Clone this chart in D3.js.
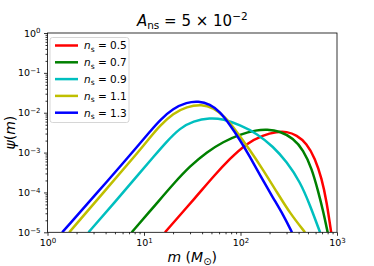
<!DOCTYPE html>
<html>
<head>
<meta charset="utf-8">
<script src="https://cdn.jsdelivr.net/npm/d3@7"></script>
<style>
  body { margin: 0; background: #fff; }
  text { font-family: "DejaVu Sans", sans-serif; fill: #000; }
</style>
</head>
<body>
<script>
// mass values (M_sun) and psi(m), one pair of arrays per curve
// n_s = 0.5
const mA = [16.5, 35.2, 52.3, 77.9, 116, 172, 237, 301, 382, 485, 592, 694, 782, 870];
const psiA = [1e-5, 8.1e-5, 2.51e-4, 7.1e-4, 1.71e-3, 2.76e-3, 3.34e-3, 3.38e-3, 2.76e-3, 1.71e-3, 7.18e-4, 2.26e-4, 5.85e-5, 1e-5];

// n_s = 0.7
const mB = [7.46, 13.5, 20.1, 30.0, 44.7, 66.3, 98.8, 147, 187, 256, 352, 448, 547, 640, 721, 800];
const psiB = [1e-5, 5.27e-5, 1.63e-4, 4.6e-4, 1.03e-3, 1.87e-3, 2.87e-3, 3.68e-3, 3.83e-3, 3.47e-3, 2.28e-3, 1.16e-3, 4.03e-4, 1.04e-4, 3.28e-5, 1e-5];

// n_s = 0.9
const mC = [2.66, 5.01, 9.09, 12.5, 17.2, 23.6, 32.4, 48.3, 66.3, 98.8, 147, 219, 301, 414, 525, 667];
const psiC = [1e-5, 5.78e-5, 3.16e-4, 7.73e-4, 1.89e-3, 4.13e-3, 6.19e-3, 7.5e-3, 6.95e-3, 4.91e-3, 3.04e-3, 1.4e-3, 5.89e-4, 1.86e-4, 4.83e-5, 1e-5];

// n_s = 1.1
const mD = [1.68, 3.94, 9.09, 11.5, 14.6, 20.1, 27.7, 39.6, 52.3, 69.1, 91.4, 125, 172, 237, 326, 466];
const psiD = [1e-5, 1.1e-4, 1.16e-3, 2.36e-3, 4.72e-3, 9.66e-3, 1.42e-2, 1.63e-2, 1.33e-2, 7.94e-3, 3.34e-3, 1.16e-3, 3.65e-4, 1.04e-4, 2.99e-5, 1e-5];

// n_s = 1.3
const mE = [1.42, 4.44, 9.09, 11.5, 14.6, 20.1, 27.7, 36.6, 48.3, 61.3, 77.9, 98.8, 125, 159, 219, 278, 341];
const psiE = [1e-5, 2.26e-4, 1.71e-3, 3.34e-3, 6.56e-3, 1.29e-2, 1.82e-2, 1.97e-2, 1.63e-2, 1.06e-2, 4.91e-3, 2.07e-3, 7.87e-4, 2.73e-4, 7.1e-5, 2.71e-5, 1e-5];

const nsLabels = ["0.5", "0.7", "0.9", "1.1", "1.3"];
const colors = ["#ff0000", "#008000", "#00bfbf", "#bfbf00", "#0000ff"];

const xTicks = [1, 10, 100, 1000];
const xExp = ["0", "1", "2", "3"];
const yTicks = [1e-5, 1e-4, 1e-3, 1e-2, 1e-1, 1];
const yExp = ["\u22125", "\u22124", "\u22123", "\u22122", "\u22121", "0"];

const series = [
  { m: mA, psi: psiA },
  { m: mB, psi: psiB },
  { m: mC, psi: psiC },
  { m: mD, psi: psiD },
  { m: mE, psi: psiE },
];

const w = 374;
const h = 266;
const padL = 47.5, padR = 337, padT = 33, padB = 232.3;

const svg = d3.select("body").append("svg").attr("width", w).attr("height", h);
svg.append("rect").attr("width", w).attr("height", h).attr("fill", "#fff");

const x = d3.scaleLog().domain([1, 1000]).range([padL, padR]);
const y = d3.scaleLog().domain([1e-5, 1]).range([padB, padT]);

// minor ticks 2..9 in every decade
const minors = (lo, hi) => {
  const out = [];
  for (let e = lo; e < hi; e++) {
    for (let k = 2; k <= 9; k++) out.push(k * Math.pow(10, e));
  }
  return out;
};

const supLabel = (sel, exps) => {
  sel.selectAll(".tick text").each(function (d, i) {
    const t = d3.select(this).text("");
    t.append("tspan").text("10");
    t.append("tspan").attr("dy", "-0.45em").attr("font-size", "7px").text(exps[i]);
  });
};

// x axis
svg.append("g").attr("transform", `translate(0,${padB})`)
  .call(d3.axisBottom(x).tickValues(minors(0, 3)).tickSize(2).tickFormat(""))
  .call((g) => g.select(".domain").remove());
const gxMaj = svg.append("g").attr("transform", `translate(0,${padB})`)
  .call(d3.axisBottom(x).tickValues(xTicks).tickSize(3.5).tickPadding(3.5).tickFormat(() => "10"))
  .call((g) => g.select(".domain").remove());
gxMaj.selectAll("text").attr("font-size", "9.5px").attr("font-family", "DejaVu Sans");
supLabel(gxMaj, xExp);

// y axis
svg.append("g").attr("transform", `translate(${padL},0)`)
  .call(d3.axisLeft(y).tickValues(minors(-5, 0)).tickSize(2).tickFormat(""))
  .call((g) => g.select(".domain").remove());
const gyMaj = svg.append("g").attr("transform", `translate(${padL},0)`)
  .call(d3.axisLeft(y).tickValues(yTicks).tickSize(3.5).tickPadding(3.5).tickFormat(() => "10"))
  .call((g) => g.select(".domain").remove());
gyMaj.selectAll("text").attr("font-size", "9.5px").attr("font-family", "DejaVu Sans");
supLabel(gyMaj, yExp);
svg.selectAll(".tick line").attr("stroke", "#000").attr("stroke-width", 0.8);

// curves
svg.append("clipPath").attr("id", "clip")
  .append("rect").attr("x", padL).attr("y", padT).attr("width", padR - padL).attr("height", padB - padT);

const line = d3.line()
  .x((d) => x(d[0]))
  .y((d) => y(d[1]))
  .curve(d3.curveBasis);

svg.append("g").attr("clip-path", "url(#clip)")
  .selectAll("path")
  .data(series)
  .enter()
  .append("path")
  .attr("d", (s) => line(s.m.map((v, i) => [v, s.psi[i]])))
  .attr("fill", "none")
  .attr("stroke", (s, i) => colors[i])
  .attr("stroke-width", 2.5);

// frame
svg.append("rect")
  .attr("x", padL).attr("y", padT)
  .attr("width", padR - padL).attr("height", padB - padT)
  .attr("fill", "none").attr("stroke", "#000").attr("stroke-width", 0.8);

// legend
const lg = svg.append("g");
lg.append("rect")
  .attr("x", 50).attr("y", 37.5).attr("width", 79).attr("height", 85)
  .attr("rx", 2.5)
  .attr("fill", "#fff").attr("fill-opacity", 0.8)
  .attr("stroke", "#ccc").attr("stroke-width", 0.8);
nsLabels.forEach((lab, i) => {
  const yy = 45.5 + i * 16.8;
  lg.append("line")
    .attr("x1", 55).attr("x2", 78).attr("y1", yy).attr("y2", yy)
    .attr("stroke", colors[i]).attr("stroke-width", 2.5);
  const t = lg.append("text").attr("x", 84).attr("y", yy + 3.8).attr("font-size", "10.5px");
  t.append("tspan").attr("font-style", "italic").text("n");
  t.append("tspan").attr("font-size", "7.5px").attr("dy", "2.5").text("s");
  t.append("tspan").attr("dy", "-2.5").text(" = " + lab);
});

// title
const title = svg.append("text")
  .attr("x", (padL + padR) / 2).attr("y", 26)
  .attr("text-anchor", "middle").attr("font-size", "15px");
title.append("tspan").attr("font-style", "italic").text("A");
title.append("tspan").attr("font-size", "10.5px").attr("dy", "3").text("ns");
title.append("tspan").attr("dy", "-3").text(" = 5 \u00d7 10");
title.append("tspan").attr("font-size", "10.5px").attr("dy", "-6").text("\u22122");

// axis labels
const xl = svg.append("text")
  .attr("x", (padL + padR) / 2).attr("y", 262)
  .attr("text-anchor", "middle").attr("font-size", "14px");
xl.append("tspan").attr("font-style", "italic").text("m");
xl.append("tspan").text(" (");
xl.append("tspan").attr("font-style", "italic").text("M");
xl.append("tspan").attr("font-size", "10px").attr("dy", "3").text("\u2299");
xl.append("tspan").attr("dy", "-3").text(")");

const yl = svg.append("text")
  .attr("transform", `translate(15,${(padT + padB) / 2}) rotate(-90)`)
  .attr("text-anchor", "middle").attr("font-size", "14px");
yl.append("tspan").attr("font-style", "italic").text("\u03c8");
yl.append("tspan").text("(");
yl.append("tspan").attr("font-style", "italic").text("m");
yl.append("tspan").text(")");
</script>
</body>
</html>
